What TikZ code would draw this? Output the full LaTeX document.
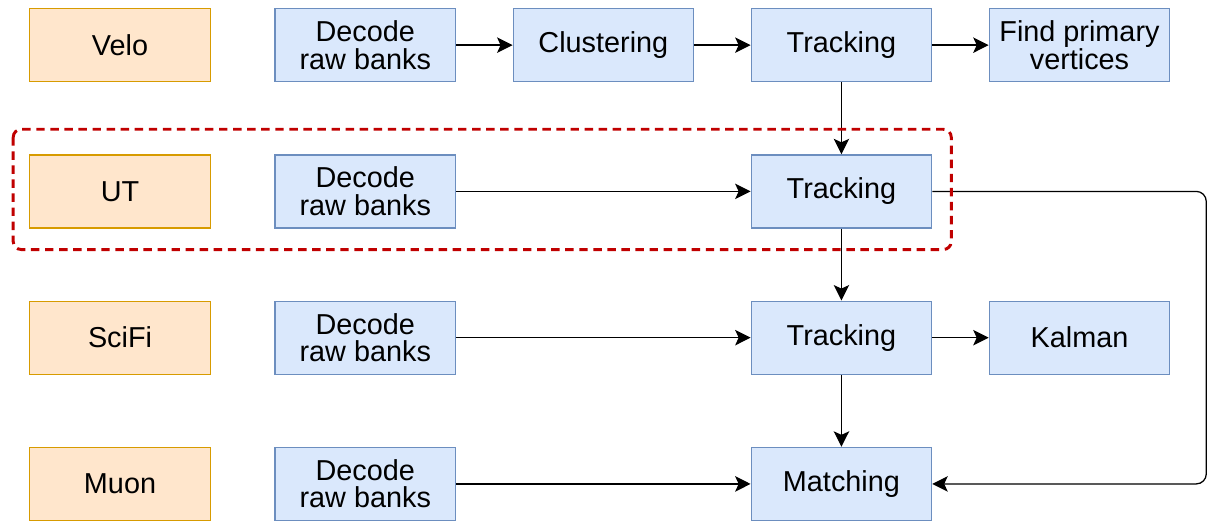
\documentclass[tikz,border=0pt]{standalone}
\usepackage{fontspec}
\setmainfont{Liberation Sans}
\usetikzlibrary{arrows.meta,calc,positioning}

\definecolor{detfill}{HTML}{FFE6CC}
\definecolor{detline}{HTML}{D79B00}
\definecolor{algfill}{HTML}{DAE8FC}
\definecolor{algline}{HTML}{6C8EBF}
\definecolor{utred}{HTML}{C00000}

\begin{document}
\begin{tikzpicture}[>={Stealth[length=11pt,width=11pt,inset=2.5pt]}, line width=0.9pt, node distance=1.8cm and 1.41cm, align=center,
		box/.style={rectangle, draw, minimum width=4.51cm, minimum height=1.825cm, inner sep=0pt, font=\fontsize{20.5}{19.5}\selectfont},
		det/.style={box, fill=detfill, draw=detline},
		alg/.style={box, fill=algfill, draw=algline}]
		\useasboundingbox (0,0) rectangle (30.225,-13.025);
		% detectors
		\node[det, anchor=north west] (velo) at (0.73,-0.2) {Velo};
		\node[det, below=of velo] (ut) {UT};
		\node[det, below=of ut] (scifi) {SciFi};
		\node[det, below=of scifi] (muon) {Muon};
		% algorithms
		\node[alg, right=1.59cm of velo] (dec1) {Decode\\raw banks};
		\node[alg, right=of dec1] (clus) {Clustering};
		\node[alg, right=of clus] (trk1) {Tracking};
		\node[alg, right=of trk1] (pv) {Find primary\\vertices};
		\node[alg, below=of dec1] (dec2) {Decode\\raw banks};
		\node[alg, below=of trk1] (trk2) {Tracking};
		\node[alg, below=of dec2] (dec3) {Decode\\raw banks};
		\node[alg, below=of trk2] (trk3) {Tracking};
		\node[alg, right=of trk3] (kalman) {Kalman};
		\node[alg, below=of dec3] (dec4) {Decode\\raw banks};
		\node[alg, below=of trk3] (match) {Matching};
		\coordinate (loop) at ($(trk2.east)+(6.85,0)$);
		\path[->]
			(dec1) edge (clus)
			(clus) edge (trk1)
			(trk1) edge (pv)
			(trk1) edge (trk2)
			(dec2) edge (trk2)
			(trk2) edge (trk3)
			(dec3) edge (trk3)
			(trk3) edge (kalman)
			(trk3) edge (match)
			(dec4) edge (match);
		\draw[->, rounded corners=0.25cm] (trk2.east) -- (loop) |- (match.east);
		\draw[utred, line width=2.1pt, dash pattern=on 6pt off 4pt, rounded corners=0.2cm]
			($(ut.north west)+(-0.4,0.625)$) rectangle ($(trk2.south east)+(0.475,-0.525)$);
	\end{tikzpicture}
\end{document}
